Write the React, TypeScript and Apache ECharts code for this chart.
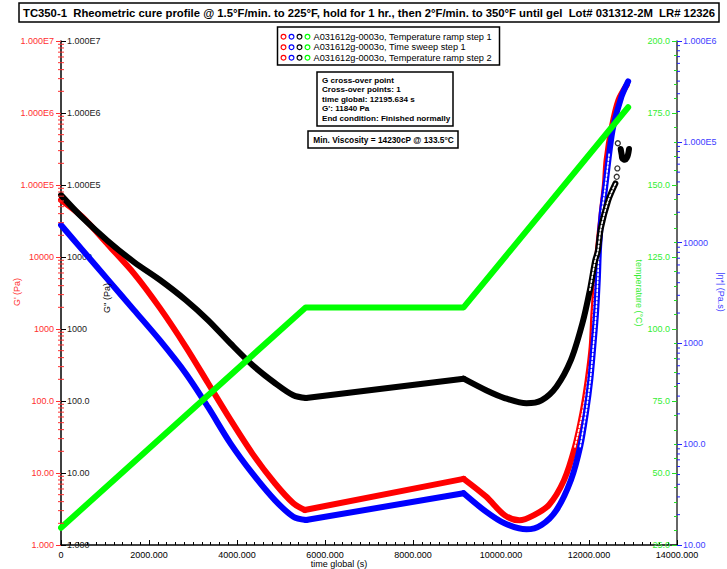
import React, { useEffect, useRef } from "react";
import * as echarts from "echarts";

// ---------- data ----------
const gpTime = [0, 480, 1070, 1660, 2250, 2840, 3340, 3850, 4350, 4860, 5280, 5540, 9150, 9660, 10080, 10420, 10750, 11090, 11430, 11680, 11850, 11970, 12060, 12100, 12160, 12200, 12290, 12360, 12400, 12520, 12670, 12860];
const gpValue = [61700, 36300, 14800, 5890, 1950, 562, 178, 55, 18.6, 7.2, 3.8, 3.06, 8.3, 4.7, 2.6, 2.2, 2.6, 3.6, 7.9, 23, 68, 195, 562, 1660, 5600, 12000, 40700, 100000, 224000, 646000, 1510000, 2450000];

const gppTime = [0, 480, 1070, 1660, 2250, 2840, 3340, 3850, 4350, 4860, 5280, 5570, 9150, 9660, 10080, 10580, 10920, 11260, 11590, 11850, 12020, 12140, 12200, 12270, 12440, 12600];
const gppValue = [72400, 35500, 16600, 8510, 4790, 2510, 1330, 631, 316, 178, 120, 110, 204, 141, 110, 93, 102, 158, 372, 1200, 3470, 8910, 12000, 25100, 61700, 105000];
// scattered G'' points and the hook at the very end of the run
const gppStrayTime = [12630, 12645, 12655];
const gppStrayValue = [130000, 170000, 380000];
const gppHookTime = [12720, 12743, 12757, 12790, 12818, 12860, 12886, 12909];
const gppHookValue = [316000, 263000, 234000, 226000, 224000, 240000, 263000, 316000];

const etaTime = [0, 480, 1070, 1660, 2250, 2840, 3340, 3850, 4350, 4860, 5280, 5570, 9150, 9660, 10080, 10580, 10920, 11260, 11590, 11800, 11930, 12030, 12100, 12160, 12200, 12230, 12290, 12360, 12460, 12550, 12740, 12890];
const etaValue = [14960, 8510, 4270, 2140, 1070, 501, 234, 102, 51.3, 27.9, 19.1, 17.7, 32.6, 21.4, 16.4, 14.3, 15.8, 22.2, 44.2, 94.6, 204, 437, 955, 2000, 4270, 9120, 19500, 33100, 76900, 141000, 282000, 398000];

const tempTime = [0, 5560, 9150, 12890];
const tempValue = [31, 107.5, 107.5, 177];

const titleText = "TC350-1  Rheometric cure profile @ 1.5°F/min. to 225°F, hold for 1 hr., then 2°F/min. to 350°F until gel  Lot# 031312-2M  LR# 12326";
const legendLabels = [
  "A031612g-0003o, Temperature ramp step 1",
  "A031612g-0003o, Time sweep step 1",
  "A031612g-0003o, Temperature ramp step 2",
];
const legendDotColors = ["#ff0000", "#0000ff", "#000000", "#00ff00"];
const crossoverLines = [
  "G cross-over point",
  "Cross-over points: 1",
  "time global: 12195.634 s",
  "G': 11840 Pa",
  "End condition: Finished normally",
];
const minViscosityText = "Min. Viscosity = 14230cP @ 133.5°C";

const FONT = "'Liberation Sans', Arial, Helvetica, sans-serif";
const RED_T = "#ff3030";
const GREEN_T = "#33ee33";
const BLUE_T = "#4040ff";

const zip = (a: number[], b: number[]) => a.map((t, i) => [t, b[i]]);
const seg = (a: number[], b: number[], t0: number, t1: number) =>
  zip(a, b).filter((p) => p[0] >= t0 && p[0] <= t1);

const logFmt = (v: number) => {
  const e = Math.round(Math.log10(v));
  if (e >= 5) return "1.000E" + e;
  if (e >= 3) return String(Math.round(v));
  return v.toFixed(3 - e);
};

function minorValues(fromExp: number, toExp: number) {
  const out: number[] = [];
  for (let k = fromExp; k < toExp; k++) {
    for (let m = 2; m <= 9; m++) out.push(m * Math.pow(10, k));
  }
  return out;
}

function tickSeries(yAxisIndex: number, xVal: number, values: number[], color: string, dx1: number, dx2: number) {
  return {
    type: "custom",
    xAxisIndex: 0,
    yAxisIndex,
    silent: true,
    clip: false,
    z: 6,
    data: values.map((v) => [xVal, v]),
    encode: { x: 0, y: 1 },
    renderItem: (_p: any, api: any) => {
      const p = api.coord([api.value(0), api.value(1)]);
      return {
        type: "line",
        shape: { x1: p[0] + dx1, y1: p[1], x2: p[0] + dx2, y2: p[1] },
        style: { stroke: color, lineWidth: 1 },
      };
    },
  };
}

function txt(text: string, x: number, y: number, opts: any = {}) {
  const font = opts.font || `9px ${FONT}`;
  const align = opts.align || "left";
  const valign = opts.valign || "middle";
  return {
    type: "text",
    x,
    y,
    rotation: opts.rotation || 0,
    z: 100,
    style: {
      text,
      font,
      fill: opts.fill || "#000",
      align,
      textAlign: align,
      verticalAlign: valign,
      textVerticalAlign: valign,
    },
  };
}

export default function App() {
  const ref = useRef<HTMLDivElement>(null);
  useEffect(() => {
    if (!ref.current) return;
    const chart = echarts.init(ref.current, undefined, { renderer: "svg" });

    const graphics: any[] = [];
    // title
    graphics.push({ type: "rect", z: 99, shape: { x: 19, y: 3, width: 700, height: 19 }, style: { fill: "#fff", stroke: "#000", lineWidth: 1.5 } });
    graphics.push(txt(titleText, 369, 12.5, { font: `bold 11.3px ${FONT}`, align: "center" }));
    // legend
    graphics.push({ type: "rect", z: 99, shape: { x: 277.5, y: 27, width: 222, height: 38 }, style: { fill: "#fff", stroke: "#000", lineWidth: 1.5 } });
    legendLabels.forEach((l, i) => {
      const y = 36.7 + i * 10.5;
      legendDotColors.forEach((c, j) => {
        graphics.push({ type: "circle", z: 100, shape: { cx: 283.5 + j * 8, cy: y, r: 2.4 }, style: { fill: "none", stroke: c, lineWidth: 1.2 } });
      });
      graphics.push(txt(l, 313.5, y, { font: `9.2px ${FONT}` }));
    });
    // cross-over box
    graphics.push({ type: "rect", z: 99, shape: { x: 317, y: 72, width: 136, height: 54 }, style: { fill: "#fff", stroke: "#000", lineWidth: 1.5 } });
    crossoverLines.forEach((l, i) => {
      graphics.push(txt(l, 322, 80.5 + i * 9.4, { font: `bold 8.1px ${FONT}` }));
    });
    graphics.push({ type: "rect", z: 99, shape: { x: 308, y: 131, width: 150, height: 17 }, style: { fill: "#fff", stroke: "#000", lineWidth: 1.5 } });
    graphics.push(txt(minViscosityText, 383.5, 140, { font: `bold 8.3px ${FONT}`, align: "center" }));
    // axis titles
    graphics.push(txt("G' (Pa)", 17, 292, { fill: RED_T, align: "center", rotation: Math.PI / 2 }));
    graphics.push(txt("G'' (Pa)", 107, 298, { fill: "#000", align: "center", rotation: Math.PI / 2 }));
    graphics.push(txt("temperature (°C)", 639, 293, { fill: GREEN_T, align: "center", rotation: -Math.PI / 2 }));
    graphics.push(txt("|η*| (Pa.s)", 721, 292, { fill: BLUE_T, align: "center", rotation: -Math.PI / 2 }));
    graphics.push(txt("time global (s)", 339, 564, { align: "center" }));

    const lineSeries = (data: number[][], color: string, yAxisIndex: number, z: number, opts: any = {}) => ({
      type: "line",
      data,
      xAxisIndex: 0,
      yAxisIndex,
      showSymbol: false,
      symbol: "none",
      smooth: opts.smooth ?? 0,
      z,
      lineStyle: { color, width: opts.width ?? 6, type: opts.type ?? "solid", cap: "round", join: "round" },
      itemStyle: { color },
    });

    const curve = (t: number[], v: number[], color: string, yi: number, z: number, bounds: number[]) => {
      const out: any[] = [];
      for (let i = 0; i < bounds.length - 1; i++) {
        out.push(lineSeries(seg(t, v, bounds[i], bounds[i + 1]), color, yi, z, { smooth: i === 1 ? 0 : 0.3 }));
      }
      return out;
    };
    const hollow = (t: number[], v: number[], yi: number, z: number, t0: number, t1: number) =>
      lineSeries(seg(t, v, t0, t1), "#ffffff", yi, z, { smooth: 0.3, width: 1.6, type: [2, 2] });

    const option: any = {
      animation: false,
      textStyle: { fontFamily: FONT },
      grid: { left: 61, right: 50, top: 41, bottom: 24, containLabel: false },
      xAxis: {
        type: "value",
        min: 0,
        max: 14000,
        interval: 2000,
        axisLine: { show: true, onZero: false, lineStyle: { color: "#000", width: 1.5 } },
        axisTick: { show: true, inside: true, length: 5, lineStyle: { color: "#000" } },
        minorTick: { show: true, splitNumber: 10, length: 3, lineStyle: { color: "#000" } },
        splitLine: { show: false },
        axisLabel: { fontSize: 9, color: "#000", margin: 5, fontFamily: FONT, formatter: (v: number) => (v === 0 ? "0" : v.toFixed(3)) },
      },
      yAxis: [
        {
          type: "log",
          min: 1,
          max: 1e7,
          splitNumber: 7,
          position: "left",
          axisLine: { show: true, lineStyle: { color: "#000", width: 1.5 } },
          axisTick: { show: true, length: 5, lineStyle: { color: RED_T } },
          splitLine: { show: false },
          axisLabel: { fontSize: 9, color: RED_T, margin: 7, fontFamily: FONT, formatter: logFmt },
        },
        {
          type: "log",
          min: 1,
          max: 1e7,
          splitNumber: 7,
          position: "left",
          axisLine: { show: false },
          axisTick: { show: true, inside: true, length: 5, lineStyle: { color: "#000" } },
          splitLine: { show: false },
          axisLabel: { inside: true, fontSize: 9, color: "#222", margin: 6, fontFamily: FONT, formatter: logFmt },
        },
        {
          type: "value",
          min: 25,
          max: 200,
          interval: 25,
          position: "right",
          axisLine: { show: true, lineStyle: { color: "#333", width: 1.5 } },
          axisTick: { show: true, inside: true, length: 5, lineStyle: { color: "#22dd22" } },
          minorTick: { show: true, splitNumber: 5, length: 3, lineStyle: { color: "#22dd22" } },
          splitLine: { show: false },
          axisLabel: { inside: true, fontSize: 9, color: GREEN_T, margin: 7, fontFamily: FONT, formatter: (v: number) => v.toFixed(1) },
        },
        {
          type: "log",
          min: 10,
          max: 1e6,
          splitNumber: 5,
          position: "right",
          axisLine: { show: false },
          axisTick: { show: true, length: 5, lineStyle: { color: "#2020ff" } },
          splitLine: { show: false },
          axisLabel: { fontSize: 9, color: BLUE_T, margin: 6, fontFamily: FONT, formatter: logFmt },
        },
      ],
      graphic: { elements: graphics },
      series: [
        ...curve(gpTime, gpValue, "#ff0000", 0, 2, [0, 5540, 9150, 13000]),
        hollow(gpTime, gpValue, 0, 2.5, 11680, 12360),
        ...curve(etaTime, etaValue, "#0000ff", 3, 3, [0, 5570, 9150, 13000]),
        hollow(etaTime, etaValue, 3, 3.5, 11800, 12460),
        ...curve(gppTime, gppValue, "#000000", 1, 4, [0, 5570, 9150, 13000]),
        hollow(gppTime, gppValue, 1, 4.5, 12020, 12600),
        {
          type: "scatter",
          data: zip(gppStrayTime, gppStrayValue),
          xAxisIndex: 0,
          yAxisIndex: 1,
          symbol: "circle",
          symbolSize: 5,
          z: 4,
          itemStyle: { color: "#fff", borderColor: "#000", borderWidth: 1.3 },
        },
        lineSeries(zip(gppHookTime, gppHookValue), "#000000", 1, 4, { smooth: 0.4, width: 6 }),
        lineSeries(zip(tempTime, tempValue), "#00ff00", 2, 5, { width: 6 }),
        tickSeries(0, 0, minorValues(0, 7), RED_T, -3, 3),
        tickSeries(3, 14000, minorValues(1, 6), "#2020ff", 0, 3),
      ],
    };
    chart.setOption(option);
    return () => chart.dispose();
  }, []);
  return <div ref={ref} style={{ position: "absolute", left: 0, top: 0, width: 727, height: 569 }} />;
}
